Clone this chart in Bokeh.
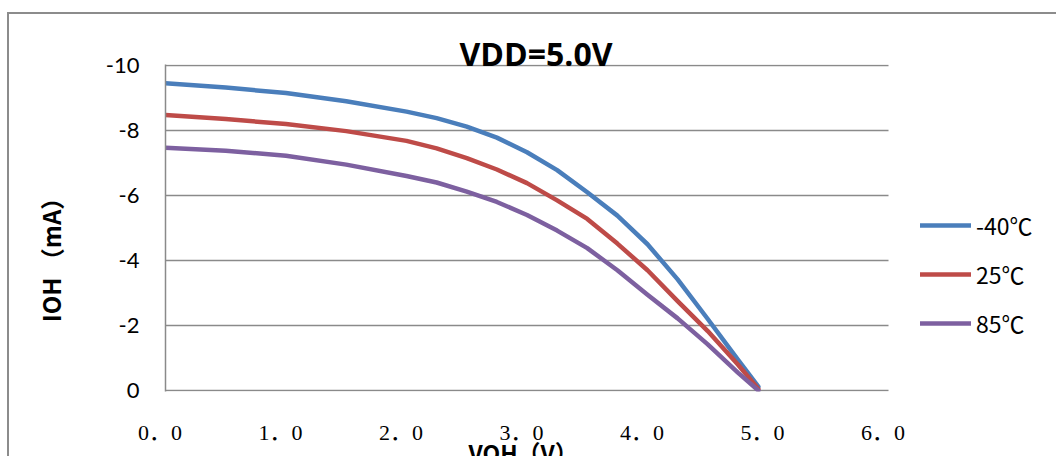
from bokeh.plotting import figure
from bokeh.models import Range1d, FixedTicker, Legend, LegendItem, Title
from bokeh.embed import file_html
from bokeh.resources import INLINE

# ---- data ----
series_names = ["-40℃", "25℃", "85℃"]

voh_m40 = [0.0, 0.5, 1.0, 1.5, 2.0, 2.25, 2.5, 2.75, 3.0, 3.25, 3.5, 3.75, 4.0, 4.25, 4.5, 4.75, 4.92]
ioh_m40 = [-9.45, -9.32, -9.15, -8.9, -8.58, -8.38, -8.12, -7.78, -7.33, -6.78, -6.1, -5.38, -4.5, -3.42, -2.2, -0.95, -0.12]

voh_25 = [0.0, 0.5, 1.0, 1.5, 2.0, 2.25, 2.5, 2.75, 3.0, 3.25, 3.5, 3.75, 4.0, 4.25, 4.5, 4.75, 4.92]
ioh_25 = [-8.48, -8.35, -8.2, -7.98, -7.68, -7.45, -7.15, -6.8, -6.38, -5.85, -5.28, -4.52, -3.7, -2.75, -1.83, -0.8, -0.05]

voh_85 = [0.0, 0.5, 1.0, 1.5, 2.0, 2.25, 2.5, 2.75, 3.0, 3.25, 3.5, 3.75, 4.0, 4.25, 4.5, 4.75, 4.92]
ioh_85 = [-7.47, -7.38, -7.22, -6.95, -6.6, -6.4, -6.12, -5.8, -5.4, -4.92, -4.38, -3.7, -2.95, -2.22, -1.42, -0.55, 0.0]

x_ticks = [0, 1, 2, 3, 4, 5, 6]
x_tick_labels = ["0．0", "1．0", "2．0", "3．0", "4．0", "5．0", "6．0"]
y_ticks = [-10, -8, -6, -4, -2, 0]
y_tick_labels = ["-10", "-8", "-6", "-4", "-2", "0"]

title_text = "VDD=5.0V"
x_title = "VOH（V）"
y_title = "IOH （mA）"

colors = ["#4A7EBB", "#BE4B48", "#7D60A0"]

# ---- figure geometry (pixels) ----
W, H = 1049, 444
FL, FT, FB = 156, 50, 377          # frame left / top / bottom inside the canvas
PX_PER_V = 120.5                   # 0..6 V spans 723 px as in the reference
x_end = (W - FL) / PX_PER_V        # frame runs to the right edge so the legend fits

p = figure(width=W, height=H, output_backend="svg", toolbar_location=None,
           x_range=Range1d(0, x_end), y_range=Range1d(0.03, -10.03),
           min_border_left=FL, min_border_top=FT,
           min_border_right=0, min_border_bottom=H - FB)
p.styles = {"border-left": "2px solid #8c8c8c", "border-top": "2px solid #8c8c8c",
            "margin-top": "12px", "margin-left": "7px"}
p.outline_line_color = None
p.background_fill_color = "white"
p.border_fill_color = "white"
p.xgrid.visible = False
p.ygrid.visible = False

grid_color = "#8a8a8a"
# horizontal gridlines, only across the 0..6 V plot area
p.segment(x0=[x_ticks[0]] * len(y_ticks), y0=y_ticks,
          x1=[x_ticks[-1]] * len(y_ticks), y1=y_ticks,
          line_color=grid_color, line_width=1.5)

sp = "\u2002"
p.xaxis.ticker = FixedTicker(ticks=x_ticks)
p.xaxis.major_label_overrides = {t: l + sp for t, l in zip(x_ticks, x_tick_labels)}
p.xaxis.major_label_text_font = "Liberation Serif, Noto Sans CJK SC"
p.xaxis.major_label_text_font_size = "22px"
p.xaxis.major_label_text_color = "black"
p.xaxis.major_label_standoff = 28
p.xaxis.axis_line_color = None

p.yaxis.ticker = FixedTicker(ticks=y_ticks)
p.yaxis.major_label_overrides = {t: l for t, l in zip(y_ticks, y_tick_labels)}
p.yaxis.major_label_text_font = "Lato"
p.yaxis.major_label_text_font_size = "22px"
p.yaxis.major_label_text_color = "black"
p.yaxis.major_label_standoff = 26
p.yaxis.axis_line_color = grid_color
p.yaxis.axis_line_width = 1.5
# y title as axis label; trailing wide spaces push the visible text lower
p.yaxis.axis_label = y_title + "\u3000\u3000\u2002\u2006"
p.yaxis.axis_label_standoff = 35
p.yaxis.axis_label_text_font = "Noto Sans CJK SC"
p.yaxis.axis_label_text_font_style = "bold"
p.yaxis.axis_label_text_font_size = "24px"
p.yaxis.axis_label_text_color = "black"

for ax in (p.xaxis, p.yaxis):
    ax.major_tick_line_color = None
    ax.minor_tick_line_color = None
    ax.major_tick_out = 0
    ax.major_tick_in = 0

xs = [voh_m40, voh_25, voh_85]
ys = [ioh_m40, ioh_25, ioh_85]
items = []
for x, y, c, name in zip(xs, ys, colors, series_names):
    r = p.line(x, y, line_color=c, line_width=4.5, line_cap="round", line_join="round")
    items.append(LegendItem(label=name, renderers=[r]))

legend = Legend(items=items, location=(755, 51), orientation="vertical",
                glyph_width=51, glyph_height=20, label_height=20, spacing=15,
                padding=0, margin=0, label_standoff=5,
                border_line_color=None, background_fill_alpha=0,
                label_text_font="Noto Sans CJK SC", label_text_font_size="23px",
                label_text_color="black")
p.add_layout(legend)

p.add_layout(Title(text=title_text, align="left", offset=294, vertical_align="bottom",
                   standoff=-20, text_font="Open Sans", text_font_style="bold",
                   text_font_size="32px", text_color="black"), "above")
p.add_layout(Title(text=x_title, align="left", offset=303, vertical_align="top",
                   standoff=-26, text_font="Noto Sans CJK SC",
                   text_font_style="bold", text_font_size="23px",
                   text_color="black"), "below")

open("out.html", "w").write(file_html(p, INLINE))
